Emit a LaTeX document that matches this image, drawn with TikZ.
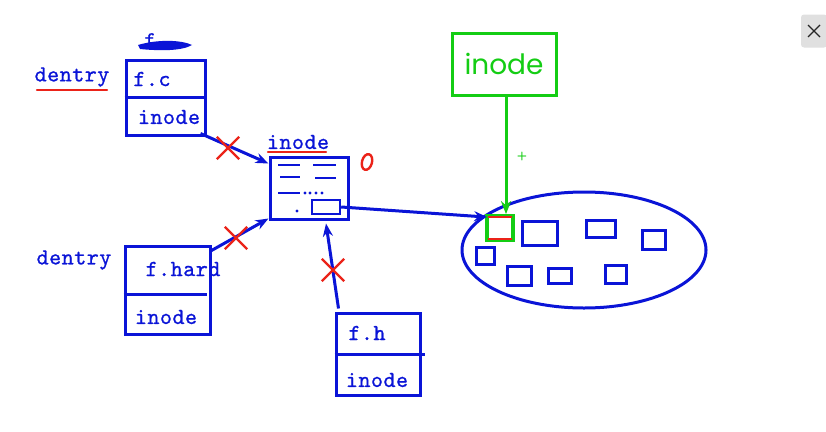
\documentclass[tikz,border=0pt]{standalone}
\usepackage{fontspec}
\usetikzlibrary{arrows.meta,positioning,shapes.misc,shapes.geometric}
\newfontfamily\penfont{lmmono10-regular.otf}[LetterSpace=2,FakeBold=0.8]
\newfontfamily\handfont{Poppins}
\definecolor{penblue}{RGB}{10,20,215}
\definecolor{pengreen}{RGB}{20,205,20}
\definecolor{penred}{RGB}{235,35,25}

\begin{document}
\begin{tikzpicture}[
  x=1pt,y=-1pt,
  >={Stealth[length=13pt,width=10pt]},
  every node/.style={font=\penfont\fontsize{23}{24}\selectfont,text=penblue},
  pen/.style={draw=penblue,line width=3pt},
  rec/.style={pen,inner sep=0pt},
  blk/.style={pen,inner sep=0pt},
  redpen/.style={draw=penred,line width=2.4pt,line cap=round},
  link/.style={->,pen},
  xmark/.style={cross out,draw=penred,line width=2.4pt,minimum size=20pt,inner sep=0pt}
]
\useasboundingbox[fill=white] (0,0) rectangle (826,431);

% dentry boxes
\node[rec,minimum width=79,minimum height=75] (fc) at (165.5,97.5) {};
\node[rec,minimum width=85,minimum height=88] (fh) at (167.5,290) {};
\node[rec,minimum width=84,minimum height=82] (fhb) at (378,354) {};
\draw[pen] (fc.west) -- (fc.east);
\draw[pen] ([shift={(0,4)}]fh.west) -- ([shift={(-5,4)}]fh.east);
\draw[pen] (fhb.west) -- ([shift={(3,0)}]fhb.east);

\node (den1) at (72,77) {dentry};
\node (den2) at (74,260) {dentry};
\node (fcname) at (152,79) {f.c};
\node (fcino) at (169,117) {inode};
\node (hname) at (183,269) {f.hard};
\node (hino) at (166,317) {inode};
\node (fhname) at (367,333) {f.h};
\node (fhino) at (377,380) {inode};
\draw[redpen] (37,90) -- (107,90);

% crossed out name
\node[font=\penfont\fontsize{22}{22}\selectfont] (oldname) at (150,40) {f};
\fill[penblue] (138,45) .. controls (158,39) and (182,40) .. (192,45)
  .. controls (182,51) and (160,51) .. (140,49) -- cycle;

% inode
\node[rec,minimum width=78,minimum height=62] (ino) at (309,188) {};
\node (inolbl) at (298,142) {inode};
\draw[redpen] (268,152) -- (326,152);
\draw[redpen,rotate around={-15:(367,162)}] (367,162) ellipse (5 and 8);
\node[blk,line width=2.4pt,minimum width=28,minimum height=14] (ptr) at (326,207) {};
\draw[pen,line width=2.6pt]
  (278,165) -- (300,165) (313,165) -- (336,165)
  (280,177) -- (300,177) (315,178) -- (336,178)
  (278,193) -- (300,193);
\foreach \px in {305,310,316,322}
  \fill[penblue] (\px,193) circle (1.6);
\fill[penblue] (297,211) circle (1.6);

% disk blocks
\node[ellipse,pen,minimum width=244,minimum height=116] (disk) at (584,250) {};
\node[blk,draw=pengreen,line width=3.8pt,fill=white,minimum width=26,minimum height=24] (blk1) at (500,228) {};
\draw[penred,line width=2pt] ([shift={(3,3)}]blk1.north west) -- ([shift={(-3,3)}]blk1.north east);
\draw[penred,line width=2pt] ([shift={(3,-3)}]blk1.south west) -- ([shift={(-3,-3)}]blk1.south east);
\node[blk,minimum width=35,minimum height=24] (blk2) at (539.5,233) {};
\node[blk,minimum width=29,minimum height=17] (blk3) at (600.5,228.5) {};
\node[blk,minimum width=23,minimum height=19] (blk4) at (653.5,239.5) {};
\node[blk,minimum width=18,minimum height=17] (blk5) at (485,255.5) {};
\node[blk,minimum width=24,minimum height=19] (blk6) at (519,275.5) {};
\node[blk,minimum width=23,minimum height=15] (blk7) at (559.5,275.5) {};
\node[blk,minimum width=21,minimum height=18] (blk8) at (615.5,274) {};

% green inode
\node[draw=pengreen,line width=3pt,minimum width=104,minimum height=62,text=pengreen,
  font=\handfont\fontsize{28}{28}\selectfont] (gbox) at (504,64) {inode};
\draw[->,draw=pengreen,line width=3pt] ([xshift=2]gbox.south) -- ([xshift=2]gbox.south |- blk1.north);
\node[text=pengreen,font=\sffamily\bfseries\fontsize{12}{12}\selectfont] (plus) at (522,156) {+};

% links
\draw[link] ([shift={(-6,-3)}]fc.south east) -- ([shift={(0,8)}]ino.north west);
\draw[link] ([shift={(0,6)}]fh.north east) -- ([shift={(0,-2)}]ino.south west);
\draw[link] ([shift={(4,-3)}]fhb.north west) -- ([shift={(17,3)}]ino.south);
\draw[link] (ptr.east) -- ([shift={(2,3)}]blk1.north west);

\node[xmark] (x1) at (228,148) {};
\node[xmark] (x2) at (236,238) {};
\node[xmark] (x3) at (333,270) {};

% close button
\node[fill=black!12,rounded corners=3pt,minimum width=26,minimum height=33] (closebtn) at (814,31) {};
\draw[black!85,line width=1.3pt] ([shift={(-6,-6)}]closebtn.center) -- ([shift={(6,6)}]closebtn.center)
  ([shift={(-6,6)}]closebtn.center) -- ([shift={(6,-6)}]closebtn.center);
\end{tikzpicture}
\end{document}
